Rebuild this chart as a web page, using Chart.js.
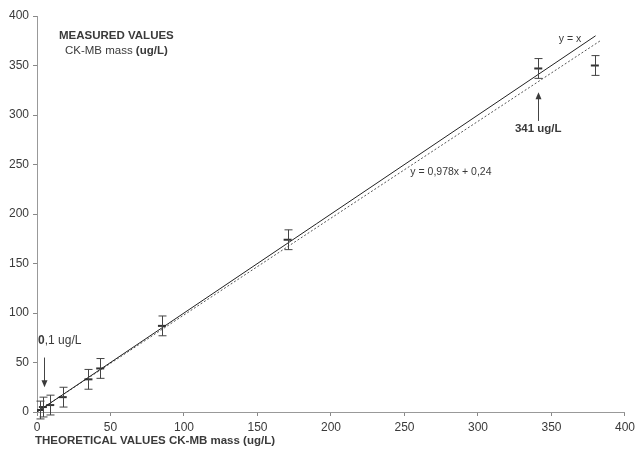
<!DOCTYPE html>
<html>
<head>
<meta charset="utf-8">
<script src="https://cdn.jsdelivr.net/npm/chart.js@4/dist/chart.umd.min.js"></script>
<style>
  html, body { margin:0; padding:0; background:#fff; }
  #wrap { width:639px; height:455px; position:relative; }
</style>
</head>
<body>
<div id="wrap"><canvas id="chartCK"></canvas></div>
<script>
// ── data ──
const theoretical = [2, 4, 9, 17.5, 35, 43, 85, 170.5, 341, 379.5];
const measured    = [2, 5, 7, 15, 33, 44, 87, 174, 347, 350];
const errHalf     = [9, 10, 10, 10, 10, 10, 10, 10, 10, 10];
const identityX   = [0, 380];
const identityY   = [0, 380];
const fitX        = [0, 383];
const fitY        = [0.24, 374.8];
const xTicks      = [0, 50, 100, 150, 200, 250, 300, 350, 400];
const yTicks      = [0, 50, 100, 150, 200, 250, 300, 350, 400];

const FONT = "'Liberation Sans', Arial, sans-serif";
const INK = '#3a3a3a';

// error bars drawn through the scales
const errorBarPlugin = {
  id: 'errorBars',
  afterDatasetsDraw(chart) {
    const { ctx, scales: { x, y } } = chart;
    ctx.save();
    ctx.strokeStyle = '#444';
    ctx.lineWidth = 1;
    theoretical.forEach((tx, i) => {
      const px = Math.round(x.getPixelForValue(tx)) + 0.5;
      const top = y.getPixelForValue(measured[i] + errHalf[i]);
      const bot = y.getPixelForValue(measured[i] - errHalf[i]);
      ctx.beginPath();
      ctx.moveTo(px, top); ctx.lineTo(px, bot);
      ctx.moveTo(px - 4, top); ctx.lineTo(px + 4, top);
      ctx.moveTo(px - 4, bot); ctx.lineTo(px + 4, bot);
      ctx.stroke();
    });
    ctx.restore();
  }
};

// ── text notes + arrows ──
function mixedText(ctx, parts, x0, yy) {
  let cx = x0;
  parts.forEach(([txt, font]) => {
    ctx.font = font;
    ctx.fillText(txt, cx, yy);
    cx += ctx.measureText(txt).width;
  });
}
function mixedWidth(ctx, parts) {
  return parts.reduce((w, [txt, font]) => { ctx.font = font; return w + ctx.measureText(txt).width; }, 0);
}

const notesPlugin = {
  id: 'notes',
  afterDraw(chart) {
    const { ctx, chartArea, scales: { x, y } } = chart;
    ctx.save();
    ctx.fillStyle = INK;
    ctx.textBaseline = 'middle';

    // header
    ctx.font = 'bold 11.5px ' + FONT;
    ctx.textAlign = 'center';
    ctx.fillText('MEASURED VALUES', x.getPixelForValue(54), y.getPixelForValue(380));
    ctx.textAlign = 'left';
    const hParts = [['CK-MB mass ', '11.5px ' + FONT], ['(ug/L)', 'bold 11.5px ' + FONT]];
    const hw = mixedWidth(ctx, hParts);
    mixedText(ctx, hParts, x.getPixelForValue(54) - hw / 2, y.getPixelForValue(365));

    // line labels
    ctx.font = '10.5px ' + FONT;
    ctx.textAlign = 'left';
    ctx.fillText('y = x', x.getPixelForValue(355), y.getPixelForValue(377));
    ctx.fillText('y = 0,978x + 0,24', x.getPixelForValue(254), y.getPixelForValue(242));

    // 341 arrow
    ctx.strokeStyle = '#444';
    ctx.lineWidth = 1;
    const ax = Math.round(x.getPixelForValue(341)) + 0.5;
    const aTop = y.getPixelForValue(323);
    const aBot = y.getPixelForValue(294);
    ctx.beginPath(); ctx.moveTo(ax, aBot); ctx.lineTo(ax, aTop + 5); ctx.stroke();
    ctx.beginPath(); ctx.moveTo(ax, aTop); ctx.lineTo(ax - 3, aTop + 7); ctx.lineTo(ax + 3, aTop + 7); ctx.closePath(); ctx.fill();
    ctx.font = 'bold 11.5px ' + FONT;
    ctx.textAlign = 'center';
    ctx.fillText('341 ug/L', x.getPixelForValue(341), y.getPixelForValue(286));

    // 0,1 arrow
    const bx = Math.round(x.getPixelForValue(4.5)) + 0.5;
    const bTop = y.getPixelForValue(55);
    const bBot = y.getPixelForValue(25);
    ctx.beginPath(); ctx.moveTo(bx, bTop); ctx.lineTo(bx, bBot - 5); ctx.stroke();
    ctx.beginPath(); ctx.moveTo(bx, bBot); ctx.lineTo(bx - 3, bBot - 7); ctx.lineTo(bx + 3, bBot - 7); ctx.closePath(); ctx.fill();
    ctx.textAlign = 'left';
    mixedText(ctx, [['0', 'bold 12px ' + FONT], [',1 ug/L', '12px ' + FONT]], x.getPixelForValue(0.7), y.getPixelForValue(72));

    // x axis title (left aligned under tick labels)
    ctx.font = 'bold 11.5px ' + FONT;
    ctx.fillText('THEORETICAL VALUES CK-MB mass (ug/L)', chartArea.left - 2, chartArea.bottom + 29);

    ctx.restore();
  }
};

new Chart(document.getElementById('chartCK').getContext('2d'), {
  type: 'scatter',
  data: {
    datasets: [
      {
        label: 'y = x',
        type: 'line',
        data: identityX.map((v, i) => ({ x: v, y: identityY[i] })),
        borderColor: '#222',
        borderWidth: 1,
        pointRadius: 0,
        fill: false,
      },
      {
        label: 'fit',
        type: 'line',
        data: fitX.map((v, i) => ({ x: v, y: fitY[i] })),
        borderColor: '#555',
        borderWidth: 1,
        borderDash: [2, 2],
        pointRadius: 0,
        fill: false,
      },
      {
        label: 'measured',
        data: theoretical.map((v, i) => ({ x: v, y: measured[i] })),
        pointStyle: 'line',
        pointRadius: 4,
        borderColor: '#333',
        borderWidth: 2,
        backgroundColor: '#333',
      }
    ]
  },
  options: {
    responsive: true, maintainAspectRatio: false, animation: false,
    layout: { padding: { top: 16, right: 4, left: 0, bottom: 0 } },
    plugins: { legend: { display: false }, tooltip: { enabled: false } },
    scales: {
      x: {
        type: 'linear', min: 0, max: 400,
        afterBuildTicks: s => { s.ticks = xTicks.map(v => ({ value: v })); },
        afterFit: s => { s.height = 43; },
        grid: { drawOnChartArea: false, tickLength: 4, color: '#888' },
        border: { color: '#999' },
        ticks: { color: INK, font: { family: FONT, size: 12 }, padding: 4, maxRotation: 0 }
      },
      y: {
        type: 'linear', min: 0, max: 400,
        afterBuildTicks: s => { s.ticks = yTicks.map(v => ({ value: v })); },
        afterFit: s => { s.width = 37; },
        grid: { drawOnChartArea: false, tickLength: 4, color: '#888' },
        border: { color: '#999' },
        ticks: { color: INK, font: { family: FONT, size: 12 }, padding: 4 }
      }
    }
  },
  plugins: [errorBarPlugin, notesPlugin]
});
</script>
</body>
</html>
